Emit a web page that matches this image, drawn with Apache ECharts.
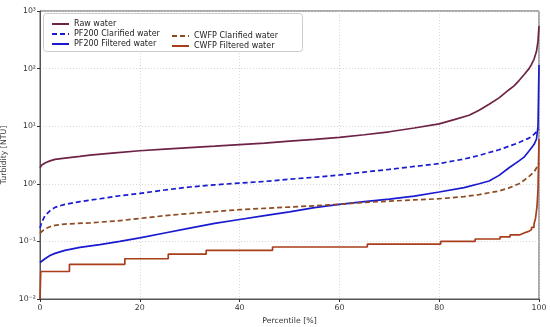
<!DOCTYPE html>
<html>
<head>
<meta charset="utf-8">
<script src="https://cdn.jsdelivr.net/npm/echarts@6/dist/echarts.min.js"></script>
<style>html,body{margin:0;padding:0;background:#fff}#c{width:550px;height:327px}</style>
</head>
<body>
<div id="c"></div>
<script>
// ---- data ----
const seriesNames = ['Raw water', 'PF200 Clarified water', 'PF200 Filtered water', 'CWFP Clarified water', 'CWFP Filtered water'];

const rawX = [0, 0.3, 1, 2, 3, 5, 8, 10, 15, 20, 25, 30, 35, 40, 45, 50, 55, 60, 65, 70, 75, 80, 83, 86, 88, 90, 92, 94, 95, 96, 97, 98, 98.5, 99, 99.5, 99.8, 100];
const rawY = [1.9, 2.1, 2.3, 2.5, 2.65, 2.8, 3.0, 3.15, 3.45, 3.75, 4.0, 4.25, 4.5, 4.8, 5.1, 5.5, 5.9, 6.4, 7.1, 8.0, 9.3, 11.0, 13, 15.5, 19, 24, 31, 43, 50, 62, 78, 100, 118, 145, 200, 300, 550];

const pfClarX = [0, 0.3, 1, 2, 3, 5, 8, 12, 16, 20, 25, 30, 35, 40, 45, 50, 55, 60, 65, 70, 75, 80, 85, 88, 90, 92, 94, 96, 97, 98, 99, 99.5, 100];
const pfClarY = [0.17, 0.21, 0.28, 0.34, 0.39, 0.44, 0.49, 0.55, 0.62, 0.68, 0.78, 0.88, 0.96, 1.03, 1.1, 1.2, 1.3, 1.42, 1.6, 1.78, 2.0, 2.24, 2.7, 3.1, 3.5, 3.9, 4.5, 5.2, 5.7, 6.2, 7.2, 8.0, 9.0];

const pfFiltX = [0, 1, 2, 3, 5, 8, 12, 16, 20, 25, 30, 35, 40, 45, 50, 55, 60, 65, 70, 75, 80, 85, 88, 90, 92, 94, 96, 97, 98, 99, 99.5, 99.8, 100];
const pfFiltY = [0.043, 0.05, 0.057, 0.062, 0.07, 0.079, 0.088, 0.1, 0.115, 0.14, 0.17, 0.205, 0.24, 0.28, 0.325, 0.385, 0.44, 0.49, 0.54, 0.61, 0.72, 0.86, 1.0, 1.12, 1.4, 1.9, 2.5, 2.9, 3.7, 4.8, 6, 10, 115];

const cwClarX = [0, 0.3, 1, 2, 3, 5, 10, 15, 20, 25, 30, 35, 40, 45, 50, 55, 60, 65, 70, 75, 80, 85, 88, 90, 92, 94, 96, 97, 98, 99, 99.5, 100];
const cwClarY = [0.14, 0.15, 0.165, 0.18, 0.19, 0.2, 0.21, 0.225, 0.25, 0.28, 0.305, 0.33, 0.355, 0.375, 0.395, 0.415, 0.44, 0.475, 0.5, 0.525, 0.55, 0.6, 0.65, 0.7, 0.75, 0.85, 1.0, 1.15, 1.35, 1.6, 1.9, 2.3];

const cwFiltX = [0, 0.15, 5.9, 17.0, 25.7, 33.3, 46.6, 65.6, 80.3, 87.2, 92.2, 94.2, 96.2, 97, 97.5, 98, 98.5, 99, 99.3, 99.6, 99.8, 100];
const cwFiltY = [0.01, 0.03, 0.04, 0.05, 0.06, 0.07, 0.08, 0.09, 0.10, 0.11, 0.12, 0.13, 0.14, 0.145, 0.15, 0.16, 0.175, 0.2, 0.25, 0.4, 0.8, 6];

const xTicks = [0, 20, 40, 60, 80, 100];
const yTicks = [0.01, 0.1, 1, 10, 100, 1000];

// ---- build ----
const zip = (xs, ys) => xs.map((x, i) => [x, ys[i]]);
const sup = {'-': '\u207B', '0': '\u2070', '1': '\u00B9', '2': '\u00B2', '3': '\u00B3'};
const fmtLog = v => '10' + String(Math.round(Math.log10(v))).split('').map(c => sup[c]).join('');

const colors = ['#6e2246', '#1a1ad0', '#1a1ad0', '#8e4a20', '#aa3e1a'];
const dash = [5, 3];
function mk(i, data, dashed, step) {
  const s = {
    name: seriesNames[i], type: 'line', data: data, symbol: 'none', showSymbol: false,
    lineStyle: {color: colors[i], width: 1.7, type: dashed ? dash : 'solid'},
    itemStyle: {color: colors[i]}, animation: false, z: 2
  };
  if (step) s.step = 'end';
  return s;
}

const chart = echarts.init(document.getElementById('c'), null, {renderer: 'canvas'});
const font = 'DejaVu Sans';
const legendCommon = {
  orient: 'vertical', itemGap: 2, itemWidth: 17, itemHeight: 10,
  textStyle: {fontFamily: font, fontSize: 8, color: '#222'}, z: 5,
  itemStyle: {opacity: 0}
};
chart.setOption({
  backgroundColor: '#fff',
  animation: false,
  grid: {left: 40, right: 11, top: 11, bottom: 28, outerBoundsMode: 'none', containLabel: false,
    show: true, borderColor: '#555', borderWidth: 1},
  xAxis: {
    type: 'value', min: 0, max: 100, interval: 20,
    axisLine: {show: true, onZero: false, lineStyle: {color: '#555', width: 1}},
    axisTick: {show: true, length: 3, lineStyle: {color: '#333'}},
    axisLabel: {fontFamily: font, fontSize: 7.8, color: '#333', margin: 5,
      formatter: v => xTicks.includes(v) ? String(v) : ''},
    splitLine: {show: true, lineStyle: {color: '#cfcfcf', type: [1, 2], width: 0.8}},
    name: 'Percentile [%]', nameLocation: 'middle', nameGap: 14,
    nameTextStyle: {fontFamily: font, fontSize: 7.8, color: '#333'}
  },
  yAxis: {
    type: 'log', logBase: 10, min: yTicks[0], max: yTicks[yTicks.length - 1],
    axisLine: {show: true, lineStyle: {color: '#555', width: 1}},
    axisTick: {show: true, length: 3, lineStyle: {color: '#333'}},
    axisLabel: {fontFamily: font, fontSize: 7.8, color: '#333', margin: 4, formatter: fmtLog},
    splitLine: {show: true, lineStyle: {color: '#cfcfcf', type: [1, 2], width: 0.8}},
    name: 'Turbidity [NTU]', nameLocation: 'middle', nameGap: 22,
    nameTextStyle: {fontFamily: font, fontSize: 7.8, color: '#333'}
  },
  legend: [
    Object.assign({data: seriesNames.slice(0, 3), left: 46, top: 15}, legendCommon),
    Object.assign({data: seriesNames.slice(3), left: 166, top: 27}, legendCommon)
  ],
  graphic: [{
    type: 'rect', left: 43, top: 13, z: 4,
    shape: {width: 259, height: 38, r: 3},
    style: {fill: 'rgba(255,255,255,0.85)', stroke: '#cccccc', lineWidth: 1}
  }],
  series: [
    mk(0, zip(rawX, rawY), false, false),
    mk(1, zip(pfClarX, pfClarY), true, false),
    mk(2, zip(pfFiltX, pfFiltY), false, false),
    mk(3, zip(cwClarX, cwClarY), true, false),
    mk(4, zip(cwFiltX, cwFiltY), false, true)
  ]
});
</script>
</body>
</html>
